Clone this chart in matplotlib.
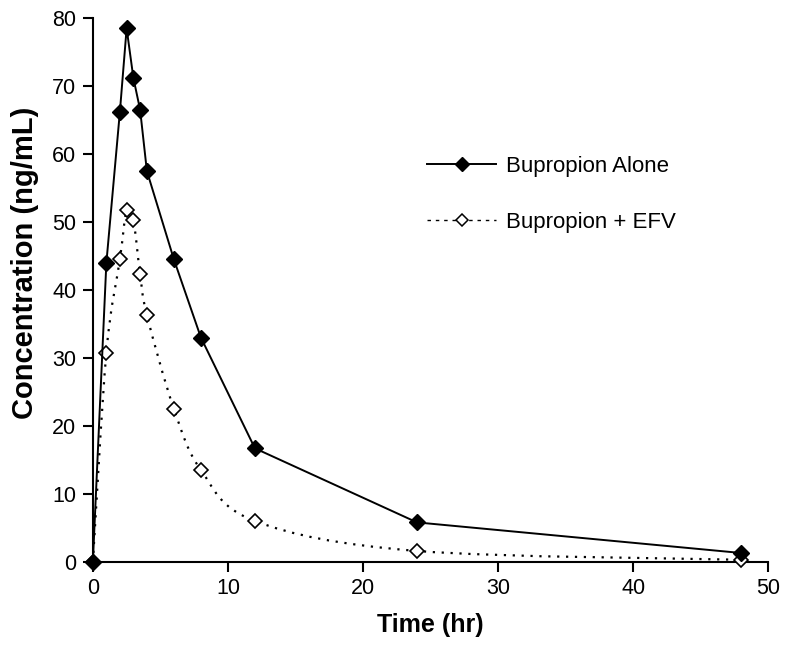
import numpy as np
import matplotlib
matplotlib.use("Agg")
import matplotlib.pyplot as plt
from matplotlib.path import Path
from matplotlib.patches import PathPatch
from matplotlib.lines import Line2D

# datos
tiempo = [0, 1, 2, 2.5, 3, 3.5, 4, 6, 8, 12, 24, 48]
solo = [0, 44.0, 66.2, 78.5, 71.2, 66.5, 57.5, 44.5, 33.0, 16.7, 5.8, 1.3]
con_efv = [0, 30.8, 44.5, 51.7, 50.3, 42.3, 36.3, 22.5, 13.5, 6.0, 1.6, 0.3]
etiquetas = ["Bupropion Alone", "Bupropion + EFV"]

plt.rcParams['font.family'] = ['Liberation Sans', 'DejaVu Sans']

fig = plt.figure(figsize=(7.87, 6.48), dpi=100)
ax = fig.add_axes([0.118, 0.133, 0.858, 0.839])


def curva_suave(x, y):
    # curva tipo Excel (Catmull-Rom pasada a Bezier)
    x = np.asarray(x, float)
    y = np.asarray(y, float)
    verts = [(x[0], y[0])]
    codes = [Path.MOVETO]
    n = len(x)
    for i in range(n - 1):
        x0, y0 = (x[i - 1], y[i - 1]) if i > 0 else (x[i], y[i])
        x3, y3 = (x[i + 2], y[i + 2]) if i + 2 < n else (x[i + 1], y[i + 1])
        c1 = (x[i] + (x[i + 1] - x0) / 6, y[i] + (y[i + 1] - y0) / 6)
        c2 = (x[i + 1] - (x3 - x[i]) / 6, y[i + 1] - (y3 - y[i]) / 6)
        verts += [c1, c2, (x[i + 1], y[i + 1])]
        codes += [Path.CURVE4] * 3
    return Path(verts, codes)


# linea punteada suavizada
patch = PathPatch(curva_suave(tiempo, con_efv), fill=False, ec='black',
                  lw=1.6, linestyle=(0, (1, 3)), zorder=2)
ax.add_patch(patch)
ax.plot(tiempo, con_efv, ls='none', marker='D', ms=7, mfc='white',
        mec='black', mew=1.2, zorder=3, clip_on=False)

# linea continua
ax.plot(tiempo, solo, color='black', lw=1.4, marker='D', ms=8,
        mfc='black', mec='black', zorder=5, clip_on=False)

ax.set_xlim(0, 50)
ax.set_ylim(0, 80)
ax.set_xticks(range(0, 51, 10))
ax.set_yticks(range(0, 81, 10))
for s in ['top', 'right']:
    ax.spines[s].set_visible(False)
for s in ['left', 'bottom']:
    ax.spines[s].set_linewidth(1.5)
ax.tick_params(direction='out', length=7, width=1.5, labelsize=15.5, pad=5)

ax.set_xlabel("Time (hr)", fontsize=18, fontweight='bold', labelpad=10)
ax.set_ylabel("Concentration (ng/mL)", fontsize=21, fontweight='bold')
ax.yaxis.set_label_coords(-0.08, 0.55)

h1 = Line2D([], [], color='black', lw=1.4, marker='D', ms=7, mfc='black')
h2 = Line2D([], [], color='black', lw=1.0, ls=(0, (2.5, 3.5)), marker='D',
            ms=6, mfc='white', mew=1.1)
ax.legend([h1, h2], etiquetas, loc='center left', bbox_to_anchor=(0.495, 0.676),
          frameon=False, fontsize=16, handlelength=3.1, labelspacing=1.55,
          handletextpad=0.45, borderpad=0, borderaxespad=0)

fig.savefig("out.png", dpi=100)
